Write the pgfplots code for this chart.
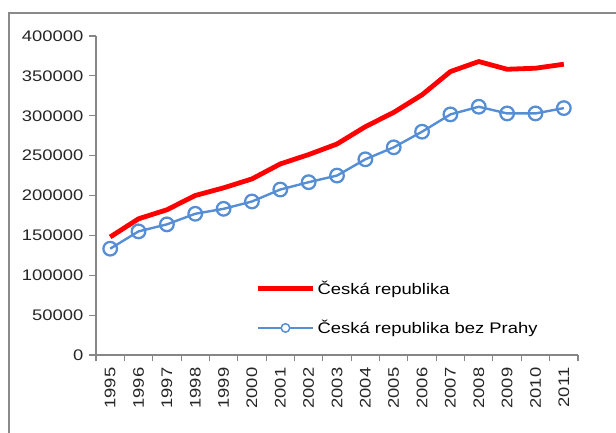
\documentclass[border=0pt]{standalone}
\usepackage{fontspec}
\setmainfont[FakeStretch=1.2]{Liberation Sans}
\usepackage{pgfplots}
\pgfplotsset{compat=1.18}
\definecolor{czRed}{HTML}{FF0000}
\definecolor{czBlue}{HTML}{558ED5}
\definecolor{axGray}{HTML}{868686}
\definecolor{frameGray}{HTML}{8A8A8A}

\begin{document}
\begin{tikzpicture}
\useasboundingbox (-72pt,-57.75pt) rectangle (390pt,266.25pt);
\begin{axis}[
  scale only axis,
  width=361.5pt, height=239.25pt,
  at={(0,0)}, anchor=south west,
  axis lines=left,
  axis line style={-, draw=axGray, line width=0.9pt},
  xmin=-0.5, xmax=16.5,
  ymin=0, ymax=400000,
  ytick distance=50000,
  scaled y ticks=false,
  xtick={0,...,16},
  xticklabels={1995,1996,1997,1998,1999,2000,2001,2002,2003,2004,2005,2006,2007,2008,2009,2010,2011},
  major x tick style={draw=none},
  minor xtick={-0.5,0.5,...,16.5},
  minor tick length=4.5pt,
  major tick length=5pt,
  tick align=outside,
  tick style={draw=axGray, line width=0.8pt},
  /pgf/number format/.cd, fixed, 1000 sep={}, assume math mode=true,
  /pgfplots/.cd,
  ticklabel style={font=\fontsize{11.5pt}{13pt}\selectfont, text=black!85},
  yticklabel style={xshift=-1pt},
  xticklabel style={rotate=90, anchor=east, yshift=0pt, xshift=-1pt},
  legend style={at={(0.323,0.25)}, anchor=north west, draw=none, fill=none,
    font=\fontsize{11.5pt}{13pt}\selectfont, row sep=14pt,
    /tikz/every even column/.append style={column sep=2pt}},
  legend cell align=left,
  clip=false,
]
\addplot[draw=czRed, line width=3.6pt, line join=round,
  legend image code/.code={\draw[czRed, line width=3.6pt] (0cm,0cm) -- (1.43cm,0cm);}]
  coordinates {
  (0,148000) (1,170800) (2,182100) (3,200000) (4,209600) (5,220800)
  (6,239600) (7,251300) (8,264600) (9,286300) (10,304200) (11,326300)
  (12,355400) (13,368000) (14,358300) (15,359600) (16,364600)
  };
\addlegendentry{Česká republika}
\addplot[draw=czBlue, line width=1.8pt, mark=o,
  mark size=5.1pt, mark options={draw=czBlue, fill=white, line width=1.7pt},
  legend image code/.code={
    \draw[czBlue, line width=1.6pt] (0cm,0cm) -- (1.43cm,0cm);
    \draw[czBlue, fill=white, line width=1.1pt] (0.715cm,0cm) circle (3.2pt);}]
  coordinates {
  (0,133300) (1,155000) (2,163800) (3,177100) (4,183300) (5,192500)
  (6,207500) (7,216700) (8,225000) (9,245400) (10,260400) (11,280000)
  (12,301700) (13,311300) (14,302900) (15,302900) (16,309600)
  };
\addlegendentry{Česká republika bez Prahy}
\end{axis}
\draw[frameGray, line width=1.6pt] (-65.25pt,-70pt) -- (-65.25pt,256.5pt) -- (400pt,256.5pt);
\end{tikzpicture}
\end{document}
